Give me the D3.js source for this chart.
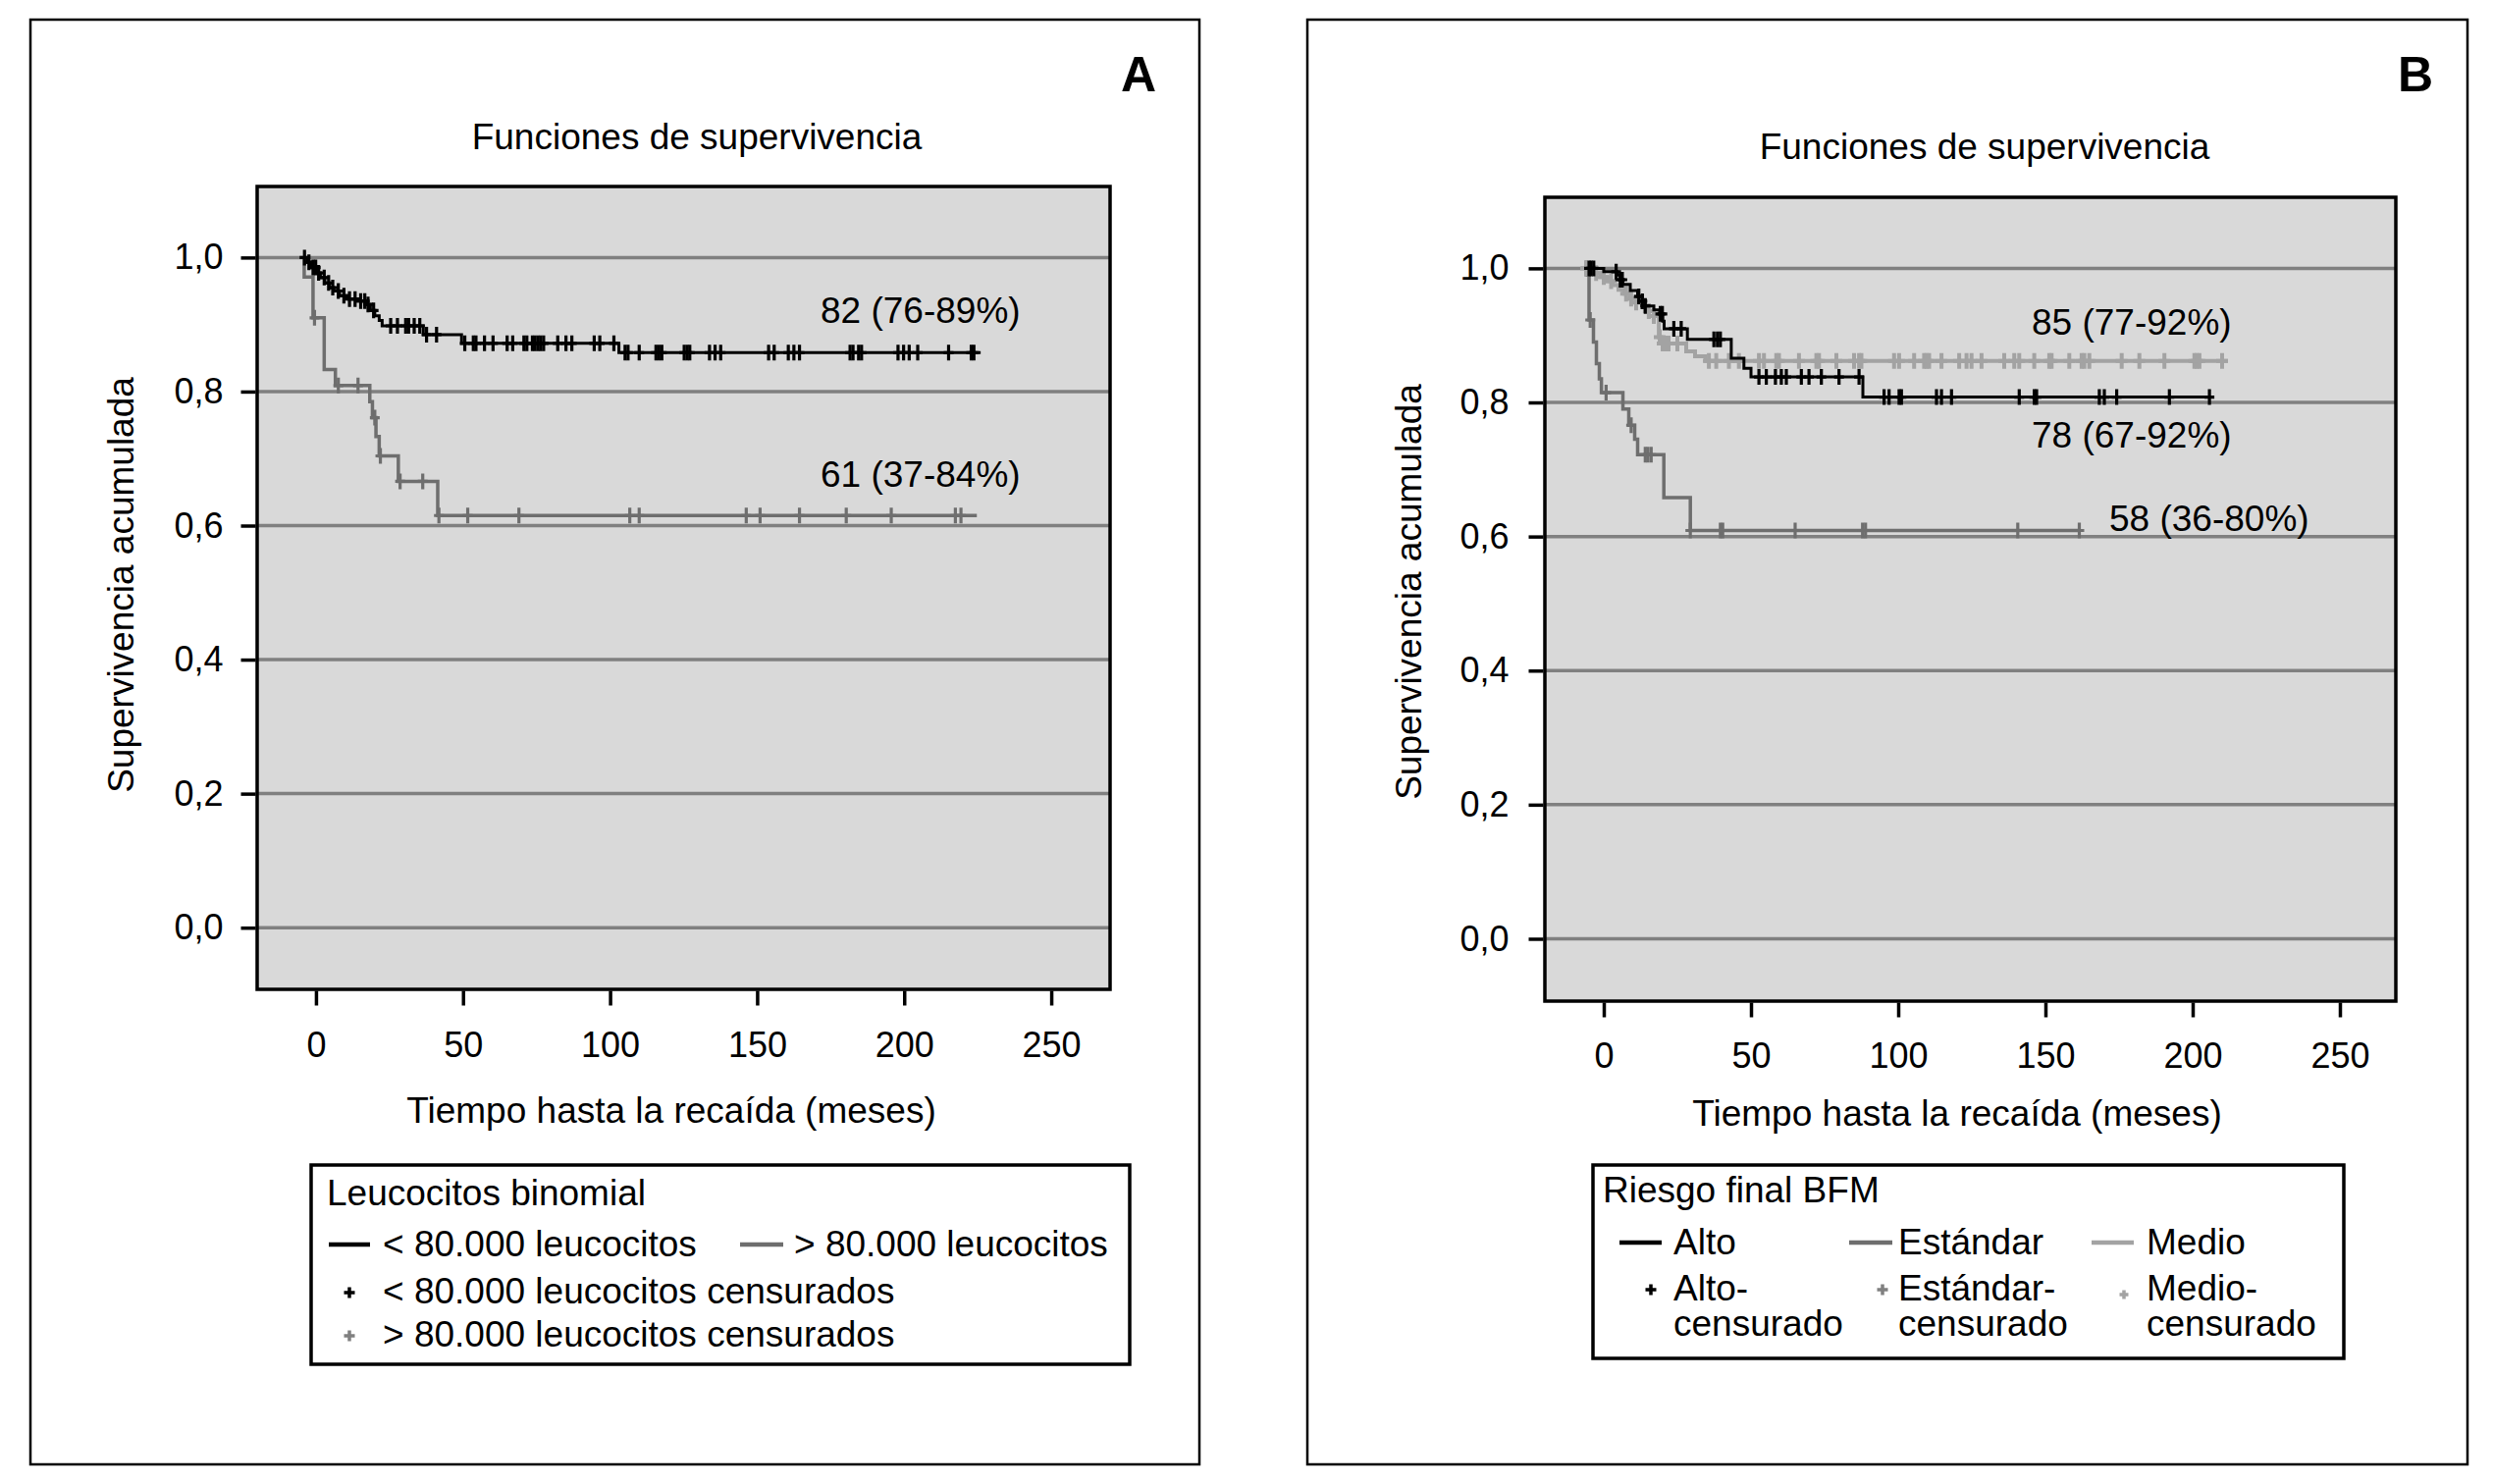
<!DOCTYPE html>
<html>
<head>
<meta charset="utf-8">
<script src="https://cdn.jsdelivr.net/npm/d3@7"></script>
<style>
  html, body { margin: 0; padding: 0; background: #fff; }
  svg { display: block; font-family: "Liberation Sans", Arial, Helvetica, sans-serif; }
</style>
</head>
<body>
<svg id="chart" width="2540" height="1512"></svg>
<script>
// ---------------- DATA ----------------
const xTicks = [0, 50, 100, 150, 200, 250];
const yTicks = [0, 0.2, 0.4, 0.6, 0.8, 1.0];
const yTickLabels = ["0,0", "0,2", "0,4", "0,6", "0,8", "1,0"];

// Panel A: Leucocitos binomial  (time in months, cumulative survival)
const lowLeucSteps = [[-4.3,1.0],[-3,0.993],[-1.5,0.985],[0,0.977],[1.5,0.970],[3,0.962],[4.5,0.955],[6,0.950],[8,0.943],[11,0.938],[14,0.935],[17.5,0.930],[18.5,0.921],[20,0.913],[21.5,0.906],[22.5,0.898],[36.5,0.885],[49.5,0.872],[103,0.858]];
const lowLeucEnd = 226;
const lowLeucCensored = [-3.9,-2.4,-1.0,-0.1,0.9,2.8,4.3,5.7,7.6,9.5,11.4,13.3,15.2,16.6,17.7,19.6,25.4,27.7,30.5,31.5,33.4,35.3,37.6,41,50.6,53.5,54.4,57.3,60.2,65,66.9,70.7,71.7,73.6,74.5,75.5,76.4,77.4,82.2,85,87,94.6,96.5,101.3,105.1,106.1,109.9,115.6,116.6,117.6,125.2,126.2,127.1,133.8,135.7,137.6,153.9,155.8,160.6,162.5,164.4,181.6,182.6,184.5,185.5,197.9,199.8,201.7,204.6,215.1,222.8,223.7];

const highLeucSteps = [[-4.3,1.0],[-4.0,0.971],[-1.0,0.910],[2.8,0.833],[6.6,0.809],[18.3,0.785],[19.2,0.761],[20.4,0.733],[21.5,0.704],[28,0.666],[41.4,0.615]];
const highLeucEnd = 224.7;
const highLeucCensored = [-0.5,7.6,14.3,20,21.9,28.6,36.3,41.8,51.6,69,106.7,109.9,146.3,151,164.4,180.3,195.6,217.4,219.3];

const labelsA = ["82 (76-89%)", "61 (37-84%)"];

// Panel B: Riesgo final BFM
const altoSteps = [[-5,1.0],[0,0.995],[4.5,0.99],[5.5,0.983],[6.5,0.976],[9,0.967],[11.5,0.958],[13,0.951],[14,0.944],[17,0.938],[19,0.932],[20,0.921],[20.5,0.910],[28.4,0.894],[43.3,0.866],[47.6,0.851],[50,0.838],[88,0.808]];
const altoEnd = 207;
const altoCensored = [-5,-4.3,-3.4,4.2,5.6,6.3,11.9,13.1,14.1,19.2,19.9,23.8,26.3,37.4,38.6,39.6,52.7,55.2,58.3,60.3,62,67.1,69.7,73.9,79.9,86.7,95.2,96.9,100.3,101.1,113,114.7,118.1,141.1,146.2,147,168.3,170,174.2,192.1,205.7];

const estandarSteps = [[-6.5,1.0],[-5.5,0.99],[-5,0.923],[-3.5,0.89],[-2.5,0.858],[-1.5,0.835],[-0.8,0.8145],[6.5,0.79],[8.5,0.766],[10.5,0.745],[11.5,0.722],[20.4,0.658],[29.4,0.609]];
const estandarEnd = 161.5;
const estandarCensored = [-6,-4.6,0.8,9.3,14.1,15,16.1,29.4,39.6,40.4,65,87.9,88.9,140.6,161.5];

const medioSteps = [[-6,1.0],[-3,0.993],[-1,0.987],[1,0.981],[3,0.975],[5,0.968],[7,0.962],[9,0.955],[11,0.949],[13,0.942],[15,0.936],[17,0.929],[18.7,0.8975],[19.5,0.888],[28,0.876],[31,0.869],[34.5,0.862]];
const medioEnd = 212;
const medioCensored = [-6,-2.6,0,2.5,7.6,9.3,11,15.3,17,19,20,21,22,25,35.7,38.2,42.5,45.9,52.7,54.4,58.6,59.5,66.3,72.2,73.1,79,85,86.7,87.5,98.6,100.3,105.4,108.8,109.6,110.5,114.7,120.7,123.2,124.9,128.3,136,139.4,141.1,146.2,151.3,152.1,158.1,162.3,163.2,164.9,175.9,181.9,190.4,200.6,201.4,202.3,210];

const labelsB = ["85 (77-92%)", "78 (67-92%)", "58 (36-80%)"];

// ---------------- DRAW ----------------
const svg = d3.select("#chart");
const FONT = 37, TICKFONT = 36;

function survAt(steps, t) {
  let s = steps[0][1];
  for (const st of steps) { if (st[0] <= t) s = st[1]; }
  return s;
}

function panel(cfg) {
  const g = svg.append("g");
  g.append("rect").attr("x", cfg.frame[0]).attr("y", cfg.frame[1])
    .attr("width", cfg.frame[2] - cfg.frame[0]).attr("height", cfg.frame[3] - cfg.frame[1])
    .attr("fill", "none").attr("stroke", "#000").attr("stroke-width", 2.5);

  const x = d3.scaleLinear().domain(cfg.xDomain).range([cfg.plot[0], cfg.plot[2]]);
  const y = d3.scaleLinear().domain(cfg.yDomain).range([cfg.plot[3], cfg.plot[1]]);

  g.append("rect").attr("x", cfg.plot[0]).attr("y", cfg.plot[1])
    .attr("width", cfg.plot[2] - cfg.plot[0]).attr("height", cfg.plot[3] - cfg.plot[1])
    .attr("fill", "#d9d9d9");

  g.selectAll(".grid").data(yTicks).enter().append("line")
    .attr("x1", cfg.plot[0]).attr("x2", cfg.plot[2])
    .attr("y1", d => y(d)).attr("y2", d => y(d))
    .attr("stroke", "#808080").attr("stroke-width", 3.5);

  const line = d3.line().x(d => x(d[0])).y(d => y(d[1])).curve(d3.curveStepAfter);
  cfg.series.forEach(s => {
    const pts = s.steps.concat([[s.end, s.steps[s.steps.length - 1][1]]]);
    g.append("path").attr("d", line(pts)).attr("fill", "none")
      .attr("stroke", s.color).attr("stroke-width", s.width);
    g.selectAll(null).data(s.cens).enter().append("path")
      .attr("transform", t => `translate(${x(t)},${y(survAt(s.steps, t))})`)
      .attr("d", `M0,${-s.mark}V${s.mark}M${-s.markW},0H${s.markW}`)
      .attr("stroke", s.color).attr("stroke-width", s.markStroke).attr("fill", "none");
  });

  g.append("rect").attr("x", cfg.plot[0]).attr("y", cfg.plot[1])
    .attr("width", cfg.plot[2] - cfg.plot[0]).attr("height", cfg.plot[3] - cfg.plot[1])
    .attr("fill", "none").attr("stroke", "#000").attr("stroke-width", 3.5);

  const xa = g.append("g").attr("transform", `translate(0,${cfg.plot[3] + 1.5})`)
    .call(d3.axisBottom(x).tickValues(xTicks).tickSize(15).tickPadding(cfg.xPad).tickFormat(d3.format("d")));
  xa.select(".domain").remove();
  xa.selectAll(".tick line").attr("stroke", "#000").attr("stroke-width", 3.5);
  xa.selectAll(".tick text").attr("font-size", TICKFONT).attr("fill", "#000")
    .attr("font-family", "Liberation Sans, Arial, sans-serif");

  const ya = g.append("g").attr("transform", `translate(${cfg.plot[0] - 1.5},0)`)
    .call(d3.axisLeft(y).tickValues(yTicks).tickSize(15).tickPadding(cfg.yPad)
      .tickFormat((d, i) => yTickLabels[i]));
  ya.select(".domain").remove();
  ya.selectAll(".tick line").attr("stroke", "#000").attr("stroke-width", 3.5);
  ya.selectAll(".tick text").attr("font-size", TICKFONT).attr("fill", "#000")
    .attr("font-family", "Liberation Sans, Arial, sans-serif");

  g.append("text").attr("x", cfg.title[0]).attr("y", cfg.title[1]).attr("text-anchor", "middle")
    .attr("font-size", FONT).text("Funciones de supervivencia");
  g.append("text").attr("x", cfg.letter[0]).attr("y", cfg.letter[1]).attr("text-anchor", "middle")
    .attr("font-size", 50).attr("font-weight", "bold").text(cfg.letterText);
  g.append("text").attr("x", cfg.xTitle[0]).attr("y", cfg.xTitle[1]).attr("text-anchor", "middle")
    .attr("font-size", FONT).text("Tiempo hasta la recaída (meses)");
  g.append("text").attr("transform", `translate(${cfg.yTitle[0]},${cfg.yTitle[1]}) rotate(-90)`)
    .attr("text-anchor", "middle").attr("dy", "0.35em")
    .attr("font-size", FONT).text("Supervivencia acumulada");

  cfg.labels.forEach((l, i) => {
    g.append("text").attr("x", cfg.labelPos[i][0]).attr("y", cfg.labelPos[i][1])
      .attr("font-size", FONT).text(l);
  });

  const L = cfg.legend;
  g.append("rect").attr("x", L.box[0]).attr("y", L.box[1])
    .attr("width", L.box[2] - L.box[0]).attr("height", L.box[3] - L.box[1])
    .attr("fill", "#fff").attr("stroke", "#000").attr("stroke-width", 3.5);
  g.append("text").attr("x", L.titleX).attr("y", L.titleY).attr("font-size", FONT).text(L.title);
  L.items.forEach(it => {
    if (it.type === "line") {
      g.append("line").attr("x1", it.x1).attr("x2", it.x2).attr("y1", it.y).attr("y2", it.y)
        .attr("stroke", it.color).attr("stroke-width", 4.5);
    } else if (it.type === "plus") {
      g.append("path").attr("transform", `translate(${it.x},${it.y})`)
        .attr("d", `M0,-${it.s}V${it.s}M-${it.s},0H${it.s}`)
        .attr("stroke", it.color).attr("stroke-width", 3.5).attr("fill", "none");
    } else {
      g.append("text").attr("x", it.x).attr("y", it.y).attr("font-size", FONT).text(it.text);
    }
  });
}

panel({
  frame: [31, 20, 1222, 1492],
  plot: [262, 190, 1131, 1008],
  xDomain: [-20, 270], yDomain: [-0.092, 1.106],
  xPad: 27, yPad: 18,
  title: [710, 152], letter: [1160, 93], letterText: "A",
  xTitle: [684, 1144], yTitle: [123, 596],
  labels: labelsA, labelPos: [[836, 329], [836, 496]],
  series: [
    {steps: highLeucSteps, end: highLeucEnd, cens: highLeucCensored, color: "#6e6e6e", width: 3.5, mark: 8, markW: 5, markStroke: 3.2},
    {steps: lowLeucSteps, end: lowLeucEnd, cens: lowLeucCensored, color: "#000", width: 3, mark: 8, markW: 5, markStroke: 3.2}
  ],
  legend: {
    box: [317, 1187, 1151, 1390], title: "Leucocitos binomial", titleX: 333, titleY: 1228,
    items: [
      {type: "line", x1: 335, x2: 377, y: 1268, color: "#000"},
      {type: "text", x: 390, y: 1280, text: "< 80.000 leucocitos"},
      {type: "line", x1: 754, x2: 798, y: 1268, color: "#6e6e6e"},
      {type: "text", x: 809, y: 1280, text: "> 80.000 leucocitos"},
      {type: "plus", x: 356, y: 1317, s: 5.5, color: "#000"},
      {type: "text", x: 390, y: 1328, text: "< 80.000 leucocitos censurados"},
      {type: "plus", x: 356, y: 1361, s: 5.5, color: "#808080"},
      {type: "text", x: 390, y: 1372, text: "> 80.000 leucocitos censurados"}
    ]
  }
});

panel({
  frame: [1332, 20, 2514, 1492],
  plot: [1574, 201, 2441, 1020],
  xDomain: [-20, 269], yDomain: [-0.093, 1.106],
  xPad: 26, yPad: 20,
  title: [2022, 162], letter: [2461, 93], letterText: "B",
  xTitle: [1994, 1147], yTitle: [1435, 603],
  labels: labelsB, labelPos: [[2070, 341], [2070, 456], [2149, 541]],
  series: [
    {steps: estandarSteps, end: estandarEnd, cens: estandarCensored, color: "#6e6e6e", width: 3.5, mark: 8, markW: 5, markStroke: 3.2},
    {steps: medioSteps, end: medioEnd, cens: medioCensored, color: "#a3a3a3", width: 4, mark: 8, markW: 6, markStroke: 4},
    {steps: altoSteps, end: altoEnd, cens: altoCensored, color: "#000", width: 3, mark: 8, markW: 5, markStroke: 3.2}
  ],
  legend: {
    box: [1623, 1187, 2388, 1384], title: "Riesgo final BFM", titleX: 1633, titleY: 1225,
    items: [
      {type: "line", x1: 1650, x2: 1693, y: 1266, color: "#000"},
      {type: "text", x: 1705, y: 1278, text: "Alto"},
      {type: "line", x1: 1884, x2: 1928, y: 1266, color: "#6e6e6e"},
      {type: "text", x: 1934, y: 1278, text: "Estándar"},
      {type: "line", x1: 2131, x2: 2174, y: 1266, color: "#a3a3a3"},
      {type: "text", x: 2187, y: 1278, text: "Medio"},
      {type: "plus", x: 1682, y: 1314, s: 5.5, color: "#000"},
      {type: "text", x: 1705, y: 1325, text: "Alto-"},
      {type: "text", x: 1705, y: 1361, text: "censurado"},
      {type: "plus", x: 1918, y: 1314, s: 5.5, color: "#808080"},
      {type: "text", x: 1934, y: 1325, text: "Estándar-"},
      {type: "text", x: 1934, y: 1361, text: "censurado"},
      {type: "plus", x: 2164, y: 1319, s: 4.5, color: "#a3a3a3"},
      {type: "text", x: 2187, y: 1325, text: "Medio-"},
      {type: "text", x: 2187, y: 1361, text: "censurado"}
    ]
  }
});
</script>
</body>
</html>
